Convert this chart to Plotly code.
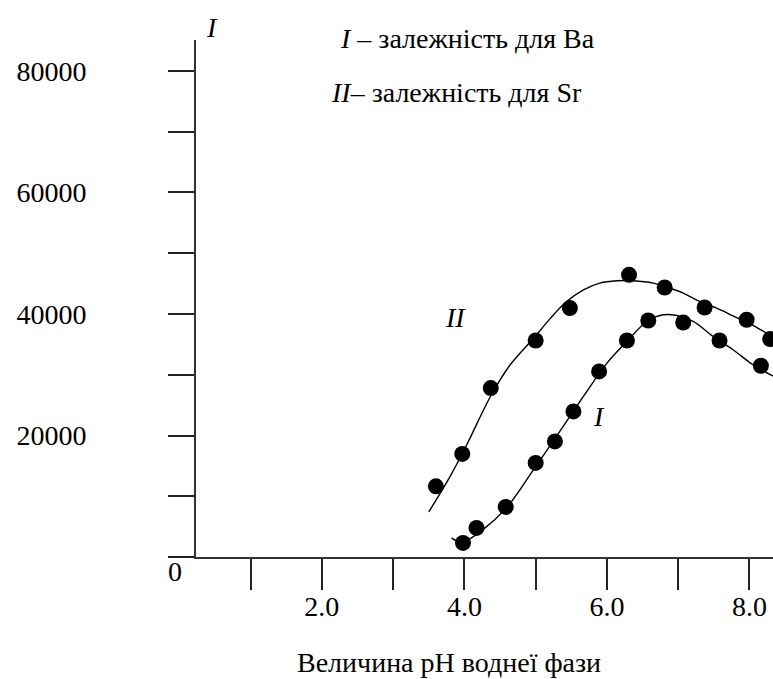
import plotly.graph_objects as go

W, H = 773, 679
ML, MR, MT, MB = 196, 0, 40, 121.5

# ---- data ----
# measured points (Ba = curve I, Sr = curve II)
ph_ba = [3.98, 4.17, 4.58, 5.00, 5.27, 5.53, 5.89, 6.28, 6.58, 7.07, 7.58, 8.16]
i_ba = [2320, 4790, 8240, 15480, 19030, 23960, 30540, 35640, 38930, 38600, 35640, 31480]
ph_sr = [3.60, 3.97, 4.37, 5.00, 5.48, 6.31, 6.81, 7.37, 7.96, 8.29]
i_sr = [11630, 16960, 27810, 35640, 40970, 46450, 44360, 41070, 39050, 35870]

# points
fit_ba_x = [3.82, 3.96, 4.26, 4.59, 4.97, 5.29, 5.67, 6.00, 6.28, 6.56, 6.79, 6.98,
            7.21, 7.49, 7.77, 8.05, 8.34]
fit_ba_y = [3140, 2420, 4510, 8080, 14380, 19850, 26430, 31920, 35480, 38770, 39870, 39750,
            38770, 36300, 34110, 31640, 29720]
fit_sr_x = [3.50, 3.80, 4.03, 4.36, 4.64, 4.97, 5.20, 5.43, 5.67, 5.90, 6.14, 6.37,
            6.65, 6.84, 7.07, 7.30, 7.54, 7.77, 8.01, 8.24, 8.34]
fit_sr_y = [7420, 13270, 18400, 26300, 31600, 36000, 39200, 42000, 43980, 45080, 45460, 45460,
            45080, 44420, 43440, 42060, 40970, 39700, 38390, 36860, 36200]

x_tick_vals = [1, 2, 3, 4, 5, 6, 7, 8]
x_tick_text = ["", "2.0", "", "4.0", "", "6.0", "", "8.0"]
y_tick_vals = [0, 10000, 20000, 30000, 40000, 50000, 60000, 70000, 80000]
y_tick_text = ["", "", "20000", "", "40000", "", "60000", "", "80000"]

X_RANGE = [0.234, 8.33]
Y_RANGE = [0, 85100]

FONT = "Liberation Serif, Times New Roman, DejaVu Serif, serif"
FS = 28

# pixel helpers for text placement
PW = W - ML - MR
PH = H - MT - MB


def px_x(px):
    return (px - ML) / PW


def px_y(py):
    return (H - MB - py) / PH


fig = go.Figure()

line_style = dict(color="black", width=1.4, shape="spline", smoothing=1.0)
fig.add_trace(go.Scatter(x=fit_sr_x, y=fit_sr_y, mode="lines", line=line_style,
                         hoverinfo="skip", showlegend=False))
fig.add_trace(go.Scatter(x=fit_ba_x, y=fit_ba_y, mode="lines", line=line_style,
                         hoverinfo="skip", showlegend=False))
marker_style = dict(color="black", size=16, line=dict(width=0))
fig.add_trace(go.Scatter(x=ph_sr, y=i_sr, mode="markers", marker=marker_style,
                         name="Sr", showlegend=False))
fig.add_trace(go.Scatter(x=ph_ba, y=i_ba, mode="markers", marker=marker_style,
                         name="Ba", showlegend=False))

annotations = [
    # y axis title
    dict(text="<i>I</i>", x=px_x(212), y=px_y(27), xref="paper", yref="paper",
         xanchor="center", yanchor="middle", showarrow=False),
    # legend text
    dict(text="<i>I</i> – залежність для Ba", x=px_x(338), y=px_y(38),
         xref="paper", yref="paper", xanchor="left", yanchor="middle", showarrow=False),
    dict(text="<i>II</i>– залежність для Sr", x=px_x(329), y=px_y(93),
         xref="paper", yref="paper", xanchor="left", yanchor="middle", showarrow=False),
    # curve labels
    dict(text="<i>II</i>", x=3.88, y=39400, xref="x", yref="y",
         xanchor="center", yanchor="middle", showarrow=False),
    dict(text="<i>I</i>", x=5.89, y=23100, xref="x", yref="y",
         xanchor="center", yanchor="middle", showarrow=False),
    # zero label at the corner
    dict(text="0", x=px_x(175), y=px_y(572), xref="paper", yref="paper",
         xanchor="center", yanchor="middle", showarrow=False),
    # x axis title
    dict(text="Величина pH воднеї фази", x=px_x(449), y=px_y(663),
         xref="paper", yref="paper", xanchor="center", yanchor="middle", showarrow=False),
]

fig.update_layout(
    width=W, height=H,
    margin=dict(l=ML, r=MR, t=MT, b=MB, pad=0, autoexpand=False),
    paper_bgcolor="white", plot_bgcolor="white",
    font=dict(family=FONT, size=FS, color="black"),
    annotations=annotations,
    showlegend=False,
)
fig.update_xaxes(
    range=X_RANGE, showgrid=False, zeroline=False, automargin=False,
    showline=True, linecolor="#333", linewidth=2,
    ticks="outside", ticklen=31, tickwidth=1.5, tickcolor="#222",
    tickvals=x_tick_vals, ticktext=x_tick_text,
    tickfont=dict(family=FONT, size=FS, color="black"),
    ticklabelstandoff=-8,
)
fig.update_yaxes(
    range=Y_RANGE, showgrid=False, zeroline=False, automargin=False,
    showline=True, linecolor="#333", linewidth=2,
    ticks="outside", ticklen=26, tickwidth=1.5, tickcolor="#222",
    tickvals=y_tick_vals, ticktext=y_tick_text,
    tickfont=dict(family=FONT, size=FS, color="black"),
    ticklabelstandoff=76,
)

fig.write_html(
    "out.html",
    config={"displayModeBar": False},
    post_script="document.body.style.margin='0';document.body.style.overflow='hidden';",
)
